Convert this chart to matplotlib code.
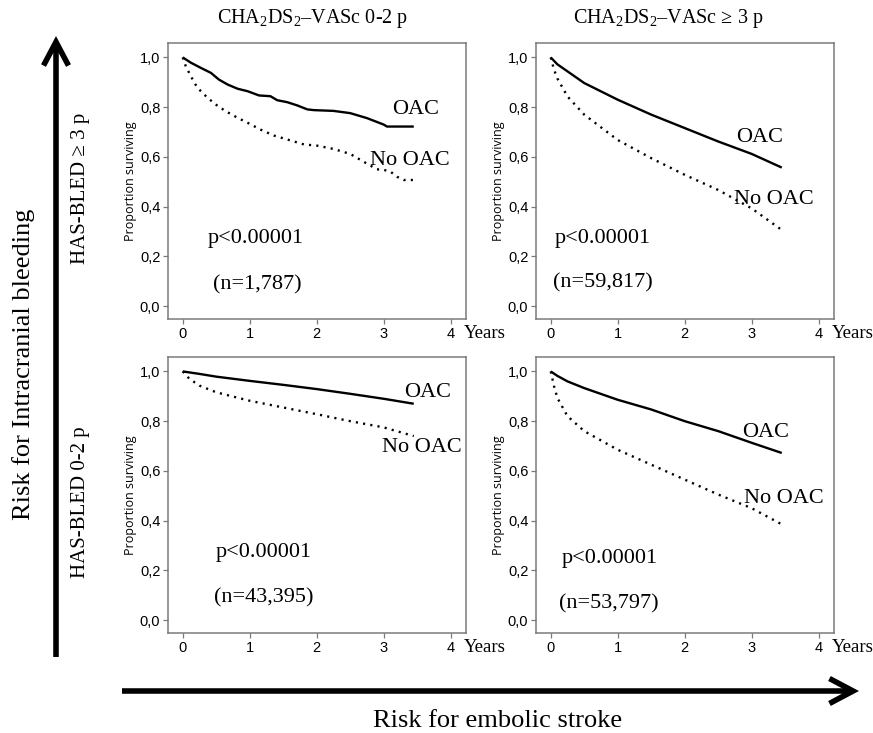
#!/usr/bin/env python3
"""Kaplan-Meier style 2x2 panel: OAC vs no OAC by CHA2DS2-VASc and HAS-BLED."""
import matplotlib
matplotlib.use("Agg")
import matplotlib.pyplot as plt
from matplotlib.patches import FancyArrowPatch

plt.rcParams["mathtext.fontset"] = "custom"
plt.rcParams["mathtext.rm"] = "Liberation Serif"
plt.rcParams["mathtext.it"] = "Liberation Serif:italic"

SERIF = "Liberation Serif"
SANS = "Liberation Sans"

COL_TITLES = [r"CHA$_2$DS$_2$–VASc 0-2 p", r"CHA$_2$DS$_2$–VASc ≥ 3 p"]
ROW_TITLES = ["HAS-BLED ≥ 3 p", "HAS-BLED 0-2 p"]
N_LABELS = [["(n=1,787)", "(n=59,817)"], ["(n=43,395)", "(n=53,797)"]]
P_LABEL = "p<0.00001"

# top-left: HAS-BLED >=3, CHA2DS2-VASc 0-2
tl_oac_t = [0, 0.12, 0.27, 0.42, 0.54, 0.67, 0.82, 0.97, 1.14, 1.31, 1.41, 1.56, 1.71, 1.86,
            1.96, 2.25, 2.5, 2.75, 3.0, 3.05, 3.45]
tl_oac_s = [1.0, 0.979, 0.958, 0.938, 0.911, 0.891, 0.874, 0.864, 0.847, 0.844, 0.828, 0.82,
            0.807, 0.791, 0.788, 0.785, 0.776, 0.756, 0.73, 0.722, 0.722]
tl_no_t = [0, 0.045, 0.12, 0.19, 0.27, 0.37, 0.49, 0.64, 0.82, 0.97, 1.16, 1.36, 1.56, 1.81,
           2.01, 2.25, 2.5, 2.75, 2.9, 3.0, 3.1, 3.2, 3.3, 3.45]
tl_no_s = [1.0, 0.965, 0.925, 0.891, 0.864, 0.838, 0.811, 0.784, 0.757, 0.737, 0.71, 0.686,
           0.67, 0.65, 0.645, 0.632, 0.612, 0.573, 0.55, 0.548, 0.541, 0.52, 0.507, 0.507]

# top-right: HAS-BLED >=3, CHA2DS2-VASc >=3
tr_oac_t = [0, 0.1, 0.25, 0.5, 1.0, 1.5, 2.0, 2.5, 3.0, 3.45]
tr_oac_s = [1.0, 0.972, 0.944, 0.897, 0.83, 0.77, 0.716, 0.662, 0.612, 0.557]
tr_no_t = [0, 0.05, 0.1, 0.25, 0.5, 1.0, 1.5, 2.0, 2.5, 3.0, 3.45]
tr_no_s = [1.0, 0.95, 0.915, 0.843, 0.77, 0.668, 0.595, 0.528, 0.467, 0.393, 0.306]

# bottom-left: HAS-BLED 0-2, CHA2DS2-VASc 0-2
bl_oac_t = [0, 0.25, 0.5, 1.0, 1.5, 2.0, 2.5, 3.0, 3.45]
bl_oac_s = [1.0, 0.99, 0.979, 0.962, 0.946, 0.929, 0.91, 0.89, 0.87]
bl_no_t = [0, 0.1, 0.25, 0.5, 1.0, 1.5, 2.0, 2.5, 3.0, 3.45]
bl_no_s = [1.0, 0.97, 0.943, 0.916, 0.882, 0.855, 0.828, 0.80, 0.775, 0.74]

# bottom-right: HAS-BLED 0-2, CHA2DS2-VASc >=3
br_oac_t = [0, 0.1, 0.25, 0.5, 1.0, 1.5, 2.0, 2.5, 3.0, 3.45]
br_oac_s = [1.0, 0.982, 0.96, 0.933, 0.886, 0.847, 0.80, 0.76, 0.713, 0.672]
br_no_t = [0, 0.05, 0.1, 0.25, 0.5, 1.0, 1.5, 2.0, 2.5, 3.0, 3.45]
br_no_s = [1.0, 0.94, 0.893, 0.82, 0.76, 0.685, 0.625, 0.565, 0.505, 0.45, 0.385]

CURVES = [
    [(tl_oac_t, tl_oac_s, tl_no_t, tl_no_s), (tr_oac_t, tr_oac_s, tr_no_t, tr_no_s)],
    [(bl_oac_t, bl_oac_s, bl_no_t, bl_no_s), (br_oac_t, br_oac_s, br_no_t, br_no_s)],
]

# label anchors (x in years, y in survival), left-aligned
OAC_POS = [[(3.12, 0.79), (2.77, 0.677)], [(3.3, 0.915), (2.86, 0.754)]]
NOOAC_POS = [[(2.8, 0.585), (2.73, 0.427)], [(2.97, 0.694), (2.89, 0.488)]]
P_POS = [[(0.37, 0.27), (0.06, 0.27)], [(0.49, 0.27), (0.16, 0.246)]]
N_POS = [[(0.45, 0.085), (0.03, 0.093)], [(0.46, 0.089), (0.13, 0.064)]]

W, H = 873, 733
fig = plt.figure(figsize=(W / 100, H / 100), dpi=100)

FRAME = "#7a7a7a"
lefts = [168, 536]
tops = [43, 357]
ax_w, ax_h = 298, 276

for r in range(2):
    for c in range(2):
        ax = fig.add_axes([lefts[c] / W, 1 - (tops[r] + ax_h) / H, ax_w / W, ax_h / H])
        ot, os_, nt, ns = CURVES[r][c]
        ax.plot(ot, os_, color="black", lw=1.7, solid_capstyle="butt")
        ax.plot(nt, ns, color="black", lw=1.7, linestyle=(0, (0.9, 2.2)))
        ax.set_xlim(-0.22, 4.23)
        ax.set_ylim(-0.052, 1.058)
        ax.set_xticks([0, 1, 2, 3, 4])
        ax.set_yticks([0, 0.2, 0.4, 0.6, 0.8, 1.0])
        ax.set_yticklabels(["0,0", "0,2", "0,4", "0,6", "0,8", "1,0"])
        ax.tick_params(direction="out", length=3.5, width=0.9, color=FRAME, pad=2,
                       labelsize=10.5)
        for lab in ax.get_xticklabels() + ax.get_yticklabels():
            lab.set_fontfamily(SANS)
        for sp in ax.spines.values():
            sp.set_color(FRAME)
            sp.set_linewidth(1.1)
        ax.set_ylabel("Proportion surviving", fontfamily="Open Sans", fontsize=9,
                      labelpad=2)
        ax.text(4.2, -0.052, "Years", transform=ax.get_xaxis_transform(),
                fontfamily=SERIF, fontsize=13.5, ha="left", va="center")
        tf = {"fontfamily": SERIF, "fontsize": 16, "ha": "left", "va": "center"}
        ax.text(*OAC_POS[r][c], "OAC", **tf)
        ax.text(*NOOAC_POS[r][c], "No OAC", **tf)
        ax.text(*P_POS[r][c], P_LABEL, **tf)
        ax.text(*N_POS[r][c], N_LABELS[r][c], **tf)

# column and row headings
for c, x in enumerate([313, 668]):
    fig.text(x / W, 1 - 18 / H, COL_TITLES[c], fontfamily=SERIF, fontsize=14.5,
             ha="center", va="center")
for r, y in enumerate([188, 502]):
    fig.text(80 / W, 1 - y / H, ROW_TITLES[r], fontfamily=SERIF, fontsize=15,
             rotation=90, ha="center", va="center")

# risk arrows
arrow = dict(arrowstyle="->,head_length=0.85,head_width=0.45", lw=4, color="black",
             shrinkA=0, shrinkB=0, mutation_scale=20, capstyle="butt",
             joinstyle="miter")
fig.add_artist(FancyArrowPatch((56 / W, 1 - 657 / H), (56 / W, 1 - 36 / H),
                               transform=fig.transFigure, **arrow))
fig.add_artist(FancyArrowPatch((122 / W, 1 - 691 / H), (859 / W, 1 - 691 / H),
                               transform=fig.transFigure, **arrow))

fig.text(24 / W, 1 - 364 / H, "Risk for Intracranial bleeding", fontfamily=SERIF,
         fontsize=19, rotation=90, ha="center", va="center")
fig.text(498 / W, 1 - 721 / H, "Risk for embolic stroke", fontfamily=SERIF,
         fontsize=19, ha="center", va="center")

fig.savefig("out.png", dpi=100, facecolor="white")
